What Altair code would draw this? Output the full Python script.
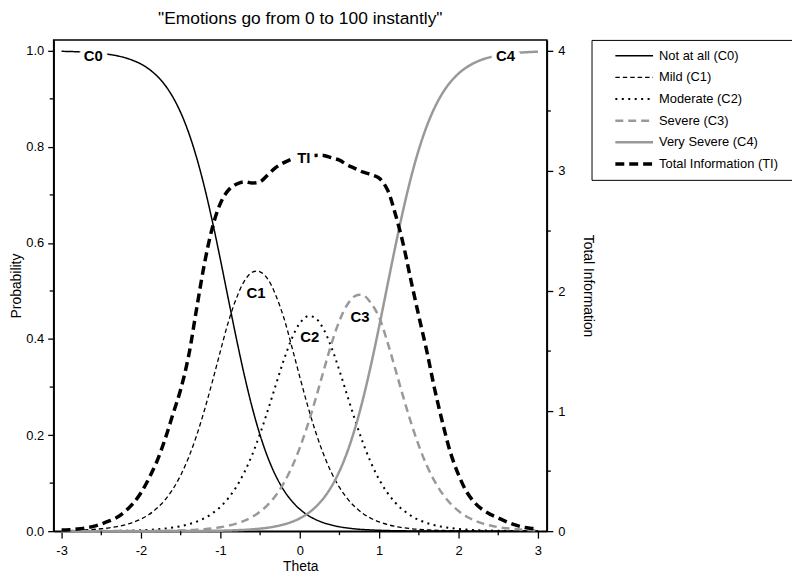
import altair as alt
import pandas as pd

FONT = "Liberation Sans, Arial, sans-serif"

theta = [-3.0, -2.9, -2.8, -2.7, -2.6, -2.5, -2.4, -2.3, -2.2, -2.1,
         -2.0, -1.9, -1.8, -1.7, -1.6, -1.5, -1.4, -1.3, -1.2, -1.1,
         -1.0, -0.9, -0.8, -0.7, -0.6, -0.5, -0.4, -0.3, -0.2, -0.1,
         0.0, 0.1, 0.2, 0.3, 0.4, 0.5, 0.6, 0.7, 0.8, 0.9,
         1.0, 1.1, 1.2, 1.3, 1.4, 1.5, 1.6, 1.7, 1.8, 1.9,
         2.0, 2.1, 2.2, 2.3, 2.4, 2.5, 2.6, 2.7, 2.8, 2.9, 3.0]

c0 = [0.9990, 0.9986, 0.9980, 0.9972, 0.9961, 0.9946, 0.9925, 0.9896, 0.9856, 0.9800,
      0.9725, 0.9621, 0.9480, 0.9292, 0.9041, 0.8715, 0.8298, 0.7780, 0.7159, 0.6443,
      0.5656, 0.4835, 0.4023, 0.3261, 0.2580, 0.2001, 0.1524, 0.1145, 0.0850, 0.0626,
      0.0458, 0.0334, 0.0242, 0.0175, 0.0127, 0.0091, 0.0066, 0.0047, 0.0034, 0.0025,
      0.0018, 0.0013, 0.0009, 0.0007, 0.0005, 0.0003, 0.0002, 0.0002, 0.0001, 0.0001,
      0.0001, 0.0001, 0.0, 0.0, 0.0, 0.0, 0.0, 0.0, 0.0, 0.0, 0.0]

c1 = [0.0010, 0.0013, 0.0019, 0.0026, 0.0036, 0.0050, 0.0069, 0.0095, 0.0132, 0.0183,
      0.0252, 0.0346, 0.0475, 0.0645, 0.0872, 0.1164, 0.1535, 0.1989, 0.2523, 0.3120,
      0.3746, 0.4352, 0.4840, 0.5200, 0.5390, 0.5400, 0.5240, 0.4900, 0.4438, 0.3840,
      0.3213, 0.2609, 0.2065, 0.1599, 0.1215, 0.0912, 0.0676, 0.0498, 0.0364, 0.0264,
      0.0192, 0.0139, 0.0100, 0.0072, 0.0052, 0.0038, 0.0028, 0.0019, 0.0014, 0.0010,
      0.0007, 0.0005, 0.0004, 0.0003, 0.0002, 0.0001, 0.0001, 0.0001, 0.0001, 0.0, 0.0]

c2 = [0.0001, 0.0001, 0.0002, 0.0002, 0.0003, 0.0004, 0.0005, 0.0007, 0.0010, 0.0014,
      0.0020, 0.0028, 0.0039, 0.0054, 0.0074, 0.0103, 0.0143, 0.0197, 0.0271, 0.0371,
      0.0507, 0.0686, 0.0920, 0.1219, 0.1588, 0.2029, 0.2527, 0.3054, 0.3567, 0.4010,
      0.4328, 0.4477, 0.4432, 0.4203, 0.3823, 0.3341, 0.2815, 0.2296, 0.1822, 0.1413,
      0.1075, 0.0807, 0.0599, 0.0441, 0.0322, 0.0234, 0.0170, 0.0123, 0.0089, 0.0064,
      0.0046, 0.0033, 0.0024, 0.0017, 0.0012, 0.0009, 0.0006, 0.0005, 0.0003, 0.0002, 0.0002]

c3 = [0.0, 0.0, 0.0, 0.0, 0.0, 0.0001, 0.0001, 0.0001, 0.0002, 0.0002,
      0.0003, 0.0004, 0.0006, 0.0008, 0.0011, 0.0016, 0.0022, 0.0030, 0.0042, 0.0059,
      0.0081, 0.0113, 0.0156, 0.0215, 0.0296, 0.0406, 0.0553, 0.0749, 0.1005, 0.1331,
      0.1734, 0.2213, 0.2757, 0.3336, 0.3904, 0.4380, 0.4720, 0.4900, 0.4910, 0.4740,
      0.4452, 0.3959, 0.3395, 0.2814, 0.2265, 0.1779, 0.1367, 0.1035, 0.0772, 0.0571,
      0.0419, 0.0306, 0.0222, 0.0161, 0.0117, 0.0084, 0.0061, 0.0044, 0.0031, 0.0022, 0.0016]

c4 = [0.0, 0.0, 0.0, 0.0, 0.0, 0.0, 0.0, 0.0, 0.0, 0.0,
      0.0, 0.0, 0.0001, 0.0001, 0.0001, 0.0002, 0.0003, 0.0004, 0.0005, 0.0007,
      0.0010, 0.0014, 0.0020, 0.0027, 0.0038, 0.0053, 0.0073, 0.0101, 0.0140, 0.0193,
      0.0267, 0.0367, 0.0504, 0.0687, 0.0931, 0.1249, 0.1656, 0.2164, 0.2775, 0.3482,
      0.4263, 0.5082, 0.5897, 0.6666, 0.7356, 0.7946, 0.8433, 0.8821, 0.9124, 0.9354,
      0.9527, 0.9655, 0.9750, 0.9819, 0.9869, 0.9906, 0.9932, 0.9951, 0.9965, 0.9975, 0.9982]

ti = [0.010, 0.012, 0.018, 0.027, 0.040, 0.060, 0.085, 0.115, 0.165, 0.230,
      0.320, 0.440, 0.580, 0.760, 0.970, 1.180, 1.460, 1.850, 2.230, 2.530,
      2.730, 2.840, 2.890, 2.910, 2.900, 2.910, 2.970, 3.030, 3.070, 3.100,
      3.120, 3.130, 3.130, 3.130, 3.110, 3.090, 3.050, 3.020, 2.990, 2.970,
      2.940, 2.850, 2.650, 2.400, 2.090, 1.790, 1.500, 1.180, 0.900, 0.650,
      0.470, 0.330, 0.240, 0.180, 0.140, 0.110, 0.080, 0.055, 0.035, 0.025, 0.020]

series_names = ["Not at all (C0)", "Mild (C1)", "Moderate (C2)", "Severe (C3)",
                "Very Severe (C4)", "Total Information (TI)"]
series_colors = ["#000000", "#000000", "#000000", "#999999", "#999999", "#000000"]
series_dashes = [[1, 0], [4.5, 3], [2, 4.5], [8, 5], [1, 0], [9, 5]]
series_widths = [1.5, 1.3, 2.0, 2.5, 2.5, 3.5]

# inline curve labels (data coordinates)
lab_text = ["C0", "C1", "C2", "C3", "C4"]
lab_theta = [-2.6, -0.55, 0.125, 0.76, 2.59]
lab_prob = [0.99, 0.496, 0.405, 0.446, 0.99]
lab_halo = [True, False, False, False, True]
ti_lab_text = ["TI"]
ti_lab_theta = [0.05]
ti_lab_value = [3.11]

x_major = [-3, -2, -1, 0, 1, 2, 3]
x_minor = [-2.5, -1.5, -0.5, 0.5, 1.5, 2.5]
p_major = [0.0, 0.2, 0.4, 0.6, 0.8, 1.0]
p_minor = [0.1, 0.3, 0.5, 0.7, 0.9]
ti_major = [0, 1, 2, 3, 4]
ti_minor = [0.5, 1.5, 2.5, 3.5]

for arr in (c0, c1, c2, c3, c4, ti):
    assert len(arr) == len(theta)

rows = []
for name, vals in zip(series_names[:5], [c0, c1, c2, c3, c4]):
    for t, v in zip(theta, vals):
        rows.append({"series": name, "theta": t, "value": v})
prob_df = pd.DataFrame(rows)
ti_df = pd.DataFrame({"series": series_names[5], "theta": theta, "value": ti})
lab_df = pd.DataFrame({"text": lab_text, "theta": lab_theta, "value": lab_prob, "halo": lab_halo})
halo_df = lab_df[lab_df["halo"]]
ti_lab_df = pd.DataFrame({"text": ti_lab_text, "theta": ti_lab_theta, "value": ti_lab_value})

W, H = 497, 495
x_scale = alt.Scale(domain=[-3.1, 3.1125], nice=False, zero=False)
p_scale = alt.Scale(domain=[0, 1.0227], nice=False, zero=False)
ti_scale = alt.Scale(domain=[0, 4.092], nice=False, zero=False)

common_axis = dict(tickColor="black", tickWidth=1.3, domainColor="black", domainWidth=1.5,
                   labelFont=FONT, labelFontSize=13, labelColor="black",
                   titleFont=FONT, titleFontSize=14, titleFontWeight="normal", titleColor="black",
                   grid=False)
x_axis = alt.Axis(values=x_major, labelExpr="'' + datum.value", title="Theta", tickSize=7,
                  labelPadding=7, titleY=40, titleBaseline="alphabetic", **common_axis)
p_axis = alt.Axis(values=p_major, format=".1f", title="Probability", tickSize=6, labelPadding=4,
                  titleX=-33, titleY=H / 2, titleAngle=270, titleBaseline="alphabetic",
                  titleAlign="center", **common_axis)
ti_axis = alt.Axis(values=ti_major, format="d", title="Total Information", orient="right",
                   tickSize=6, labelPadding=5, titleX=37, titleY=H / 2, titleAngle=90,
                   titleBaseline="alphabetic", titleAlign="center", **common_axis)

# legend symbol stroke widths follow the series widths
width_expr = "("
for name, w in zip(series_names[:-1], series_widths[:-1]):
    width_expr += f"datum.value === '{name}' ? {w} : "
width_expr += f"{series_widths[-1]})"

# an invisible title on the right side only widens the legend box
legend = alt.Legend(title="--", titleOrient="right", titlePadding=6, titleFontSize=13,
                    titleOpacity=0,
                    orient="none", legendX=542, legendY=0,
                    symbolType="stroke", symbolSize=1444, clipHeight=16,
                    symbolStrokeWidth={"expr": width_expr},
                    strokeColor="black", fillColor="white",
                    padding=8, labelFont=FONT, labelFontSize=13, labelColor="black",
                    rowPadding=5.8, symbolOffset=14, labelOffset=4, labelLimit=300)

color_enc = alt.Color("series:N", sort=series_names,
                      scale=alt.Scale(domain=series_names, range=series_colors), legend=legend)
dash_enc = alt.StrokeDash("series:N", sort=series_names,
                          scale=alt.Scale(domain=series_names, range=series_dashes), legend=legend)

X = alt.X("theta:Q", scale=x_scale, axis=x_axis)
Yp = alt.Y("value:Q", scale=p_scale, axis=p_axis)
Yt = alt.Y("value:Q", scale=ti_scale, axis=ti_axis)

prob_layers = []
for name, w in zip(series_names[:5], series_widths[:5]):
    prob_layers.append(
        alt.Chart(prob_df).transform_filter(alt.datum.series == name)
        .mark_line(interpolate="catmull-rom", strokeWidth=w)
        .encode(x=X, y=Yp, color=color_enc, strokeDash=dash_enc)
    )

p_minor_ticks = alt.Chart(pd.DataFrame({"value": p_minor})).mark_rule(color="black", strokeWidth=1.3).encode(
    y=Yp, x=alt.value(-4), x2=alt.value(0))
x_minor_ticks = alt.Chart(pd.DataFrame({"theta": x_minor})).mark_rule(color="black", strokeWidth=1.3).encode(
    x=X, y=alt.value(H), y2=alt.value(H + 4))

halo = alt.Chart(halo_df).mark_text(font=FONT, fontSize=15, fontWeight="bold", stroke="white",
                                    strokeWidth=10, fill="white", baseline="middle", align="center").encode(
    x=X, y=Yp, text="text:N")
labels = alt.Chart(lab_df).mark_text(font=FONT, fontSize=15, fontWeight="bold", color="black",
                                     baseline="middle", align="center").encode(
    x=X, y=Yp, text="text:N")

left_layer = alt.layer(*prob_layers, p_minor_ticks, x_minor_ticks, halo, labels)

ti_line = alt.Chart(ti_df).mark_line(interpolate="catmull-rom", strokeWidth=series_widths[5]).encode(
    x=X, y=Yt, color=color_enc, strokeDash=dash_enc)
ti_minor_ticks = alt.Chart(pd.DataFrame({"value": ti_minor})).mark_rule(color="black", strokeWidth=1.3).encode(
    y=Yt, x=alt.value(W), x2=alt.value(W + 4))
ti_halo = alt.Chart(ti_lab_df).mark_text(font=FONT, fontSize=15, fontWeight="bold", stroke="white",
                                         strokeWidth=10, fill="white", baseline="middle", align="center").encode(
    x=X, y=Yt, text="text:N")
ti_label = alt.Chart(ti_lab_df).mark_text(font=FONT, fontSize=15, fontWeight="bold", color="black",
                                          baseline="middle", align="center").encode(
    x=X, y=Yt, text="text:N")

right_layer = alt.layer(ti_line, ti_minor_ticks, ti_halo, ti_label)

chart = alt.layer(left_layer, right_layer).resolve_scale(y="independent").properties(
    width=W, height=H,
    title=alt.TitleParams(text='"Emotions go from 0 to 100 instantly"', font=FONT, fontSize=17.5,
                          fontWeight="normal", color="black", anchor="middle", offset=12),
    autosize=alt.AutoSizeParams(type="none"),
    padding={"left": 46, "top": 30, "right": 247, "bottom": 41},
    background="white",
).configure_view(stroke="black", strokeWidth=1.5)

chart.save("out.html", embed_options={"renderer": "svg", "actions": False})
